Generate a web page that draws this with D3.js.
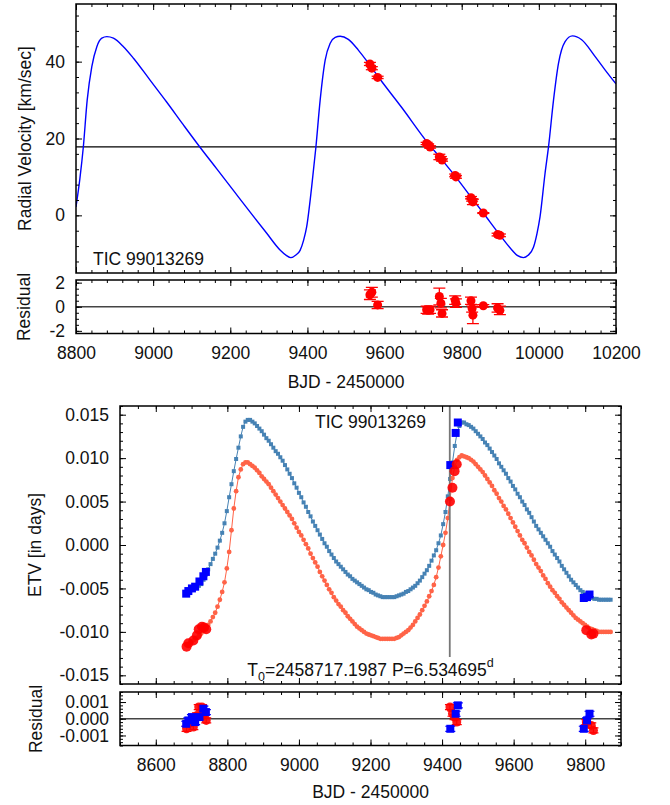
<!DOCTYPE html>
<html>
<head>
<meta charset="utf-8">
<title>TIC 99013269 - RV and ETV</title>
<script src="https://d3js.org/d3.v7.min.js"></script>
<style>
  body { margin: 0; background: #fff; }
  svg text { font-family: "Liberation Sans", Arial, Helvetica, sans-serif; font-size: 17.5px; fill: #111; }
</style>
</head>
<body>
<svg id="chart" width="670" height="805"></svg>
<script>
// ---- radial velocity model ----
const rvModelT = [8800, 8810, 8819, 8829, 8841, 8854, 8867, 8880, 8897, 8923, 8949, 8992, 9035, 9078, 9121,
  9165, 9208, 9251, 9294, 9329, 9345, 9357, 9370, 9381, 9390, 9398, 9411, 9422, 9433, 9446, 9459, 9472, 9485,
  9506, 9532, 9558, 9584, 9645, 9711, 9745, 9783, 9826, 9856, 9895, 9930, 9945, 9960, 9972, 9986, 9995, 10003,
  10016, 10025, 10038, 10051, 10068, 10087, 10111, 10146, 10172, 10200];
const rvModelV = [2.2, 9.5, 17.8, 30.0, 38.7, 43.9, 46.1, 46.5, 46.1, 43.9, 40.9, 35.2, 29.5, 23.6, 17.8,
  12.1, 6.5, 0.9, -4.6, -9.0, -10.4, -11.0, -10.3, -9.1, -6.5, -3.0, 7.4, 17.8, 30.0, 40.4, 44.8, 46.3, 46.6,
  45.8, 43.0, 39.6, 36.0, 28.0, 19.0, 14.9, 10.2, 4.5, 0.6, -4.6, -9.0, -10.5, -11.0, -10.4, -8.3, -4.8, -0.4,
  10.9, 17.8, 30.0, 39.6, 45.2, 46.7, 45.7, 41.3, 37.8, 34.2];
const rvGamma = 17.8;

// ---- radial velocity observations ----
const rvObsT   = [9562, 9567, 9582, 9709, 9713, 9718, 9742, 9746, 9749, 9783, 9785, 9824, 9827, 9829, 9856, 9893, 9899];
const rvObsV   = [39.4, 38.3, 35.9, 18.7, 18.3, 17.8, 15.2, 14.9, 14.4, 10.4, 10.0, 4.6, 4.0, 3.5, 0.6, -5.0, -5.2];
const rvObsErr = [0.4, 0.4, 0.3, 0.3, 0.3, 0.3, 0.7, 0.4, 0.3, 0.35, 0.35, 0.3, 0.3, 0.7, 0.1, 0.35, 0.35];
const rvResid  = [1.0, 1.2, 0.15, -0.25, -0.3, -0.25, 0.85, 0.3, -0.55, 0.55, 0.3, 0.5, -0.15, -0.7, 0.08, -0.1, -0.3];

// ---- ETV model, one point per eclipse cycle ----
const etvT = [8688, 8694.5, 8701, 8707.5, 8714, 8720.5, 8727, 8733.5, 8740, 8746.5,
  8753, 8759.5, 8766, 8772.5, 8779, 8785.5, 8792, 8798.5, 8805, 8811.5,
  8818, 8824.5, 8831, 8837.5, 8844, 8850.5, 8857, 8863.5, 8870, 8876.5,
  8883, 8889.5, 8896, 8902.5, 8909, 8915.5, 8922, 8928.5, 8935, 8941.5,
  8948, 8954.5, 8961, 8967.5, 8974, 8980.5, 8987, 8993.5, 9000, 9006.5,
  9013, 9019.5, 9026, 9032.5, 9039, 9045.5, 9052, 9058.5, 9065, 9071.5,
  9078, 9084.5, 9091, 9097.5, 9104, 9110.5, 9117, 9123.5, 9130, 9136.5,
  9143, 9149.5, 9156, 9162.5, 9169, 9175.5, 9182, 9188.5, 9195, 9201.5,
  9208, 9214.5, 9221, 9227.5, 9234, 9240.5, 9247, 9253.5, 9260, 9266.5,
  9273, 9279.5, 9286, 9292.5, 9299, 9305.5, 9312, 9318.5, 9325, 9331.5,
  9338, 9344.5, 9351, 9357.5, 9364, 9370.5, 9377, 9383.5, 9390, 9396.5,
  9403, 9409.5, 9416, 9422.5, 9429, 9435.5, 9442, 9448.5, 9455, 9461.5,
  9468, 9474.5, 9481, 9487.5, 9494, 9500.5, 9507, 9513.5, 9520, 9526.5,
  9533, 9539.5, 9546, 9552.5, 9559, 9565.5, 9572, 9578.5, 9585, 9591.5,
  9598, 9604.5, 9611, 9617.5, 9624, 9630.5, 9637, 9643.5, 9650, 9656.5,
  9663, 9669.5, 9676, 9682.5, 9689, 9695.5, 9702, 9708.5, 9715, 9721.5,
  9728, 9734.5, 9741, 9747.5, 9754, 9760.5, 9767, 9773.5, 9780, 9786.5,
  9793, 9799.5, 9806, 9812.5, 9819, 9825.5, 9832, 9838.5, 9845, 9851.5,
  9858, 9864.5, 9871];
const etvBlue = [-0.0053, -0.0052, -0.0051, -0.0050, -0.0049, -0.0047, -0.0045, -0.0040, -0.0034, -0.0028,
  -0.0022, -0.0016, -0.0010, -0.0003, 0.0005, 0.0014, 0.0025, 0.0039, 0.0055, 0.0070,
  0.0085, 0.0099, 0.0112, 0.0125, 0.0136, 0.0142, 0.0144, 0.0144, 0.0142, 0.0140,
  0.0137, 0.0134, 0.0131, 0.0127, 0.0123, 0.0120, 0.0116, 0.0112, 0.0108, 0.0105,
  0.0101, 0.0097, 0.0092, 0.0087, 0.0082, 0.0077, 0.0071, 0.0066, 0.0060, 0.0055,
  0.0049, 0.0044, 0.0038, 0.0033, 0.0027, 0.0022, 0.0017, 0.0012, 0.0007, 0.0002,
  -0.0002, -0.0007, -0.0011, -0.0015, -0.0019, -0.0022, -0.0025, -0.0028, -0.0031, -0.0034,
  -0.0036, -0.0039, -0.0041, -0.0043, -0.0045, -0.0047, -0.0049, -0.0051, -0.0052, -0.0054,
  -0.0055, -0.0057, -0.0058, -0.0059, -0.0060, -0.0060, -0.0060, -0.0060, -0.0060, -0.0060,
  -0.0059, -0.0058, -0.0057, -0.0056, -0.0054, -0.0053, -0.0051, -0.0049, -0.0047, -0.0044,
  -0.0041, -0.0037, -0.0033, -0.0029, -0.0024, -0.0018, -0.0012, -0.0006, 0.0002, 0.0011,
  0.0024, 0.0038, 0.0056, 0.0076, 0.0095, 0.0114, 0.0129, 0.0137, 0.0141, 0.0141,
  0.0139, 0.0138, 0.0136, 0.0134, 0.0131, 0.0128, 0.0125, 0.0122, 0.0118, 0.0115,
  0.0111, 0.0107, 0.0103, 0.0099, 0.0094, 0.0090, 0.0086, 0.0082, 0.0077, 0.0073,
  0.0068, 0.0064, 0.0059, 0.0055, 0.0050, 0.0046, 0.0041, 0.0037, 0.0032, 0.0027,
  0.0022, 0.0018, 0.0014, 0.0010, 0.0006, 0.0002, -0.0002, -0.0007, -0.0011, -0.0015,
  -0.0019, -0.0024, -0.0028, -0.0032, -0.0036, -0.0040, -0.0043, -0.0046, -0.0049, -0.0052,
  -0.0054, -0.0056, -0.0058, -0.0060, -0.0061, -0.0062, -0.0062, -0.0063, -0.0063, -0.0063,
  -0.0063, -0.0063, -0.0063];
const etvRed = [-0.0115, -0.0113, -0.0111, -0.0109, -0.0107, -0.0105, -0.0102, -0.0099, -0.0096, -0.0092,
  -0.0088, -0.0083, -0.0078, -0.0071, -0.0063, -0.0054, -0.0043, -0.0027, -0.0008, 0.0017,
  0.0042, 0.0062, 0.0078, 0.0087, 0.0093, 0.0095, 0.0095, 0.0093, 0.0091, 0.0089,
  0.0086, 0.0083, 0.0079, 0.0076, 0.0073, 0.0070, 0.0066, 0.0062, 0.0058, 0.0054,
  0.0050, 0.0046, 0.0042, 0.0038, 0.0034, 0.0030, 0.0025, 0.0020, 0.0015, 0.0011,
  0.0006, 0.0001, -0.0004, -0.0010, -0.0015, -0.0020, -0.0025, -0.0031, -0.0036, -0.0041,
  -0.0046, -0.0051, -0.0055, -0.0060, -0.0064, -0.0068, -0.0071, -0.0075, -0.0078, -0.0082,
  -0.0085, -0.0088, -0.0091, -0.0094, -0.0096, -0.0098, -0.0100, -0.0102, -0.0103, -0.0104,
  -0.0105, -0.0106, -0.0107, -0.0108, -0.0108, -0.0108, -0.0108, -0.0108, -0.0108, -0.0108,
  -0.0107, -0.0106, -0.0104, -0.0102, -0.0100, -0.0098, -0.0095, -0.0092, -0.0088, -0.0084,
  -0.0080, -0.0075, -0.0070, -0.0065, -0.0059, -0.0053, -0.0046, -0.0037, -0.0026, -0.0013,
  0.0000, 0.0014, 0.0031, 0.0053, 0.0077, 0.0090, 0.0098, 0.0101, 0.0103, 0.0102,
  0.0101, 0.0100, 0.0098, 0.0096, 0.0093, 0.0090, 0.0087, 0.0084, 0.0080, 0.0076,
  0.0072, 0.0068, 0.0063, 0.0059, 0.0054, 0.0050, 0.0045, 0.0041, 0.0036, 0.0031,
  0.0026, 0.0021, 0.0016, 0.0011, 0.0006, 0.0002, -0.0003, -0.0008, -0.0012, -0.0017,
  -0.0022, -0.0026, -0.0030, -0.0035, -0.0039, -0.0044, -0.0048, -0.0052, -0.0055, -0.0059,
  -0.0062, -0.0066, -0.0069, -0.0072, -0.0075, -0.0078, -0.0081, -0.0084, -0.0086, -0.0088,
  -0.0090, -0.0092, -0.0094, -0.0096, -0.0097, -0.0098, -0.0099, -0.0100, -0.0100, -0.0100,
  -0.0100, -0.0100, -0.0100];

// ---- ETV observations ----
const blueObsT   = [8685, 8691, 8701, 8710, 8722, 8733, 8740, 9423, 9438, 9444, 9796, 9805, 9812];
const blueObsEtv = [-0.0056, -0.0053, -0.0050, -0.0048, -0.0042, -0.0036, -0.0031, 0.0092, 0.0129, 0.0141, -0.0061, -0.0060, -0.0057];
const blueObsRes = [-0.0003, -0.0001, 0.0001, -0.0002, 0.0001, 0.0006, 0.0004, -0.0006, 0.0003, 0.0008, -0.0006, -0.0001, 0.0003];
const redObsT    = [8686, 8691, 8705, 8715, 8720, 8729, 8735, 8741, 9422, 9429, 9435, 9441, 9803, 9817, 9823];
const redObsEtv  = [-0.0117, -0.0113, -0.0110, -0.0104, -0.0097, -0.0094, -0.0095, -0.0097, 0.0050, 0.0066, 0.0085, 0.0093, -0.0098, -0.0103, -0.0102];
const redObsRes  = [-0.0006, -0.0003, -0.0005, 0.0002, 0.0007, 0.0007, 0.0003, -0.0001, 0.0007, 0.0003, 0.0001, -0.0002, -0.0002, -0.0004, -0.0007];
const etvResErr  = 0.00015;
const refTime = 9421.5;

// ---- ticks ----
const rvXTicks = [8800, 9000, 9200, 9400, 9600, 9800, 10000, 10200];
const rvYTicks = [0, 20, 40];
const rvResTicks = [-2, 0, 2];
const rvResLabels = ["-2", "0", "2"];
const etvXTicks = [8600, 8800, 9000, 9200, 9400, 9600, 9800];
const etvYTicks = [-0.015, -0.010, -0.005, 0, 0.005, 0.010, 0.015];
const etvYLabels = ["-0.015", "-0.010", "-0.005", "0.000", "0.005", "0.010", "0.015"];
const etvResTicks = [-0.001, 0, 0.001];
const etvResLabels = ["-0.001", "0.000", "0.001"];

const svg = d3.select("#chart");

// scales
const xRV = d3.scaleLinear().domain([8800, 10200]).range([76, 616]);
const yRV = d3.scaleLinear().domain([-15, 55]).range([273, 4]);
const yRVres = d3.scaleLinear().domain([-2.22, 2.22]).range([333.5, 280]);
const xE = d3.scaleLinear().domain([8500, 9900]).range([120, 621]);
const yE = d3.scaleLinear().domain([-0.016, 0.016]).range([684, 406]);
const yEres = d3.scaleLinear().domain([-0.0016, 0.0016]).range([745.5, 692]);

function minorTicks(scale, step) {
  const [d0, d1] = scale.domain();
  return d3.range(Math.ceil(d0 / step - 1e-6), Math.floor(d1 / step + 1e-6) + 1).map(i => i * step);
}

// frame + mirrored inward ticks, gnuplot style
function axes(x, y, xMaj, xStep, yMaj, yLabels, yStep, xLabels) {
  const [xl, xr] = x.range(), [yb, yt] = y.range();
  const g = svg.append("g");
  const xMin = minorTicks(x, xStep), yMin = minorTicks(y, yStep);
  const add = (tr, ax) => g.append("g").attr("transform", tr).call(ax);
  add(`translate(0,${yb})`, d3.axisBottom(x).tickValues(xMin).tickSize(-3).tickFormat(""));
  add(`translate(0,${yt})`, d3.axisTop(x).tickValues(xMin).tickSize(-3).tickFormat(""));
  add(`translate(${xl},0)`, d3.axisLeft(y).tickValues(yMin).tickSize(-3).tickFormat(""));
  add(`translate(${xr},0)`, d3.axisRight(y).tickValues(yMin).tickSize(-3).tickFormat(""));
  add(`translate(0,${yb})`, d3.axisBottom(x).tickValues(xMaj).tickSize(-6).tickPadding(13)
    .tickFormat(xLabels ? d3.format("d") : ""));
  add(`translate(0,${yt})`, d3.axisTop(x).tickValues(xMaj).tickSize(-6).tickFormat(""));
  add(`translate(${xl},0)`, d3.axisLeft(y).tickValues(yMaj).tickSize(-6).tickPadding(11)
    .tickFormat((d, i) => yLabels[i]));
  add(`translate(${xr},0)`, d3.axisRight(y).tickValues(yMaj).tickSize(-6).tickFormat(""));
  g.selectAll(".domain").remove();
  g.selectAll(".tick line").attr("stroke", "#000");
  g.selectAll(".tick text").attr("font-size", null).attr("font-family", null).attr("fill", "#111");
  g.append("rect").attr("x", xl).attr("y", yt).attr("width", xr - xl).attr("height", yb - yt)
    .attr("fill", "none").attr("stroke", "#000").attr("stroke-width", 1.5);
}

function yTitle(text, cx, cy) {
  svg.append("text").attr("transform", `translate(${cx},${cy}) rotate(-90)`)
    .attr("text-anchor", "middle").attr("dominant-baseline", "central").text(text);
}

function clip(id, x, y) {
  svg.append("clipPath").attr("id", id).append("rect")
    .attr("x", x.range()[0]).attr("y", y.range()[1])
    .attr("width", x.range()[1] - x.range()[0]).attr("height", y.range()[0] - y.range()[1]);
  return svg.append("g").attr("clip-path", `url(#${id})`);
}

// ================= top panel: radial velocity =================
const gRV = clip("cRV", xRV, yRV);
gRV.append("line").attr("x1", xRV.range()[0]).attr("x2", xRV.range()[1])
  .attr("y1", yRV(rvGamma)).attr("y2", yRV(rvGamma)).attr("stroke", "#000").attr("stroke-width", 1.2);
gRV.append("path").datum(d3.zip(rvModelT, rvModelV))
  .attr("fill", "none").attr("stroke", "#0000ff").attr("stroke-width", 1.4)
  .attr("d", d3.line().x(d => xRV(d[0])).y(d => yRV(d[1])).curve(d3.curveMonotoneX));

const rvObs = rvObsT.map((t, i) => ({ t, v: rvObsV[i], e: rvObsErr[i], r: rvResid[i] }));
const eb = gRV.selectAll(".eb").data(rvObs).join("g").attr("stroke", "#ff0000").attr("stroke-width", 1.3);
eb.append("line").attr("x1", d => xRV(d.t)).attr("x2", d => xRV(d.t))
  .attr("y1", d => yRV(d.v - d.e)).attr("y2", d => yRV(d.v + d.e));
[-1, 1].forEach(s => eb.append("line").attr("x1", d => xRV(d.t) - 6).attr("x2", d => xRV(d.t) + 6)
  .attr("y1", d => yRV(d.v + s * d.e)).attr("y2", d => yRV(d.v + s * d.e)));
gRV.selectAll(".pt").data(rvObs).join("circle")
  .attr("cx", d => xRV(d.t)).attr("cy", d => yRV(d.v)).attr("r", 4.5).attr("fill", "#ff0000");

axes(xRV, yRV, rvXTicks, 40, rvYTicks, rvYTicks.map(String), 4, false);
svg.append("text").attr("x", 93).attr("y", 265).text("TIC 99013269");
yTitle("Radial Velocity [km/sec]", 25, 138.5);

// residuals
const gRVr = clip("cRVr", xRV, yRVres);
gRVr.append("line").attr("x1", xRV.range()[0]).attr("x2", xRV.range()[1])
  .attr("y1", yRVres(0)).attr("y2", yRVres(0)).attr("stroke", "#444").attr("stroke-width", 1.4);
const ebr = gRVr.selectAll(".ebr").data(rvObs).join("g").attr("stroke", "#ff0000").attr("stroke-width", 1.3);
ebr.append("line").attr("x1", d => xRV(d.t)).attr("x2", d => xRV(d.t))
  .attr("y1", d => yRVres(d.r - d.e)).attr("y2", d => yRVres(d.r + d.e));
[-1, 1].forEach(s => ebr.append("line").attr("x1", d => xRV(d.t) - 6).attr("x2", d => xRV(d.t) + 6)
  .attr("y1", d => yRVres(d.r + s * d.e)).attr("y2", d => yRVres(d.r + s * d.e)));
gRVr.selectAll(".ptr").data(rvObs).join("circle")
  .attr("cx", d => xRV(d.t)).attr("cy", d => yRVres(d.r)).attr("r", 4.5).attr("fill", "#ff0000");

axes(xRV, yRVres, rvXTicks, 40, rvResTicks, rvResLabels, 0.5, true);
yTitle("Residual", 24, 307);
svg.append("text").attr("x", d3.mean(xRV.range())).attr("y", 388).attr("text-anchor", "middle").text("BJD - 2450000");

// ================= bottom panel: ETV =================
const gE = clip("cE", xE, yE);
const blueM = d3.zip(etvT, etvBlue), redM = d3.zip(etvT, etvRed);
const lineE = d3.line().x(d => xE(d[0])).y(d => yE(d[1]));
gE.append("path").datum(blueM).attr("fill", "none").attr("stroke", "#4682b4").attr("stroke-width", 1).attr("d", lineE);
gE.selectAll(".bm").data(blueM).join("rect")
  .attr("x", d => xE(d[0]) - 2).attr("y", d => yE(d[1]) - 2).attr("width", 4).attr("height", 4)
  .attr("fill", "#4682b4");
gE.append("path").datum(redM).attr("fill", "none").attr("stroke", "#ff6347").attr("stroke-width", 1).attr("d", lineE);
gE.selectAll(".rm").data(redM).join("circle")
  .attr("cx", d => xE(d[0])).attr("cy", d => yE(d[1])).attr("r", 2.4).attr("fill", "#ff6347");

gE.append("line").attr("x1", xE(refTime)).attr("x2", xE(refTime))
  .attr("y1", yE.range()[1]).attr("y2", 657).attr("stroke", "#777").attr("stroke-width", 1.8);

const blueObs = blueObsT.map((t, i) => ({ t, v: blueObsEtv[i], r: blueObsRes[i] }));
const redObs = redObsT.map((t, i) => ({ t, v: redObsEtv[i], r: redObsRes[i] }));
gE.selectAll(".bo").data(blueObs).join("rect")
  .attr("x", d => xE(d.t) - 4).attr("y", d => yE(d.v) - 4).attr("width", 8).attr("height", 8).attr("fill", "#0000ff");
gE.selectAll(".ro").data(redObs).join("circle")
  .attr("cx", d => xE(d.t)).attr("cy", d => yE(d.v)).attr("r", 5).attr("fill", "#ff0000").attr("fill-opacity", 0.9);

axes(xE, yE, etvXTicks, 50, etvYTicks, etvYLabels, 0.001, false);
svg.append("text").attr("x", d3.mean(xE.range())).attr("y", 428).attr("text-anchor", "middle").text("TIC 99013269");
const t0 = svg.append("text").attr("x", d3.mean(xE.range())).attr("y", 676).attr("text-anchor", "middle");
t0.append("tspan").text("T");
t0.append("tspan").attr("dy", 5).attr("font-size", "12.5px").text("0");
t0.append("tspan").attr("dy", -5).text("=2458717.1987 P=6.534695");
t0.append("tspan").attr("dy", -9).attr("font-size", "12.5px").text("d");
yTitle("ETV [in days]", 35, 545);

// ETV residuals
const gEr = clip("cEr", xE, yEres);
gEr.append("line").attr("x1", xE.range()[0]).attr("x2", xE.range()[1])
  .attr("y1", yEres(0)).attr("y2", yEres(0)).attr("stroke", "#444").attr("stroke-width", 1.4);
function resBars(data, color) {
  const g = gEr.selectAll(null).data(data).join("g").attr("stroke", color).attr("stroke-width", 1.2);
  g.append("line").attr("x1", d => xE(d.t)).attr("x2", d => xE(d.t))
    .attr("y1", d => yEres(d.r - etvResErr)).attr("y2", d => yEres(d.r + etvResErr));
  [-1, 1].forEach(s => g.append("line").attr("x1", d => xE(d.t) - 5).attr("x2", d => xE(d.t) + 5)
    .attr("y1", d => yEres(d.r + s * etvResErr)).attr("y2", d => yEres(d.r + s * etvResErr)));
}
resBars(redObs, "#ff0000");
resBars(blueObs, "#0000ff");
gEr.selectAll(".rr").data(redObs).join("circle")
  .attr("cx", d => xE(d.t)).attr("cy", d => yEres(d.r)).attr("r", 4.5).attr("fill", "#ff0000").attr("fill-opacity", 0.9);
gEr.selectAll(".br").data(blueObs).join("rect")
  .attr("x", d => xE(d.t) - 4).attr("y", d => yEres(d.r) - 4).attr("width", 8).attr("height", 8).attr("fill", "#0000ff");

axes(xE, yEres, etvXTicks, 50, etvResTicks, etvResLabels, 0.0002, true);
yTitle("Residual", 36, 719);
svg.append("text").attr("x", d3.mean(xE.range())).attr("y", 798).attr("text-anchor", "middle").text("BJD - 2450000");
</script>
</body>
</html>
